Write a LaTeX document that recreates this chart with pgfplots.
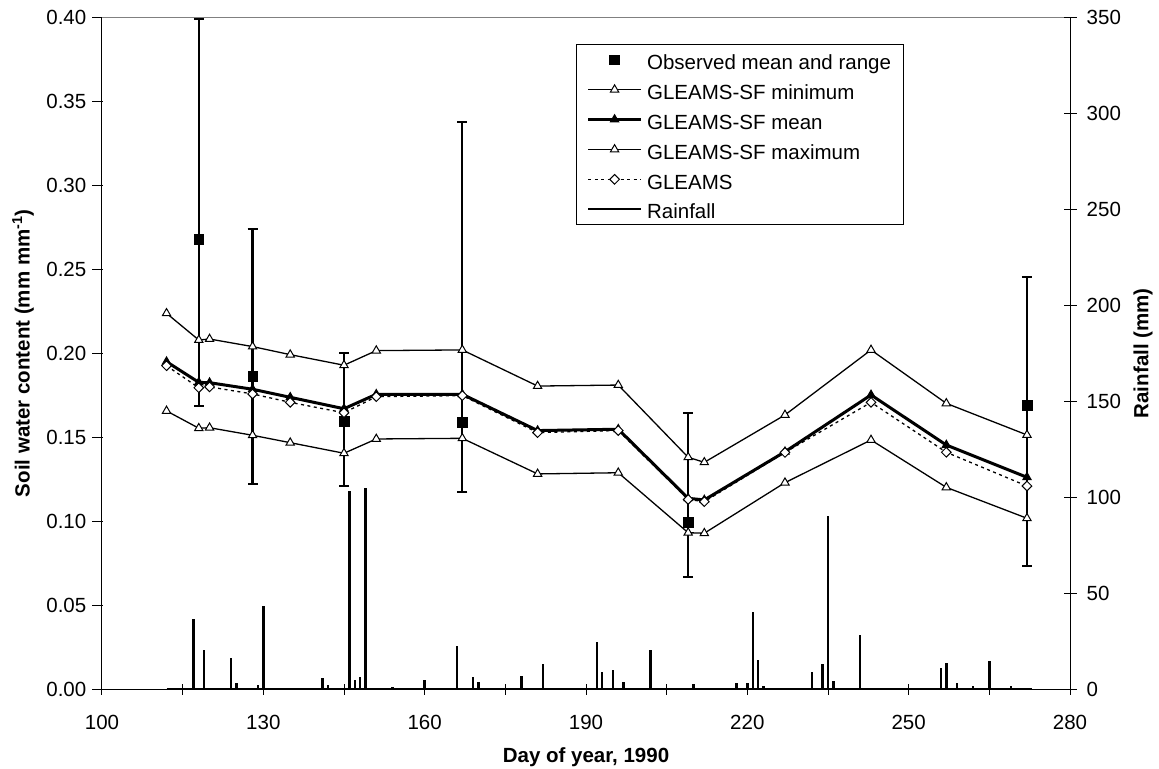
\documentclass[border=0pt]{standalone}
\usepackage{fontspec}
\setmainfont{Liberation Sans}
\usepackage{pgfplots}
\pgfplotsset{compat=1.18}

\pgfplotstableread{
day  mn      mean    mx      gl
112  0.1657  0.1950  0.2238  0.1926
118  0.1554  0.1827  0.2079  0.1795
120  0.1557  0.1825  0.2085  0.1800
128  0.1512  0.1786  0.2040  0.1758
135  0.1468  0.1738  0.1992  0.1708
145  0.1405  0.1670  0.1929  0.1646
151  0.1490  0.1756  0.2016  0.1742
167  0.1494  0.1756  0.2020  0.1748
181  0.1282  0.1540  0.1805  0.1528
196  0.1289  0.1548  0.1811  0.1540
209  0.0932  0.1137  0.1381  0.1130
212  0.0929  0.1127  0.1351  0.1117
227  0.1230  0.1414  0.1633  0.1410
243  0.1484  0.1752  0.2020  0.1708
257  0.1202  0.1454  0.1702  0.1411
272  0.1018  0.1262  0.1514  0.1210
}\simdata

\pgfplotstableread{
day rain
117 36.6
119 20.3
124 16.5
125 3.4
129 2.4
130 43.4
141 5.7
142 2.4
146 103.4
147 4.8
148 6.4
149 104.7
154 1.4
160 4.7
166 22.4
169 6.6
170 4.0
178 7.1
182 13.0
186 0.7
192 24.8
193 8.9
195 10.0
197 3.6
202 20.5
208 0.5
210 2.6
218 3.4
220 3.1
221 40.4
222 15.3
223 1.7
232 8.9
234 13.0
235 90.4
236 4.3
241 28.3
256 11.3
257 13.9
259 3.1
262 1.7
265 14.6
269 1.7
}\raindata

\begin{document}
\begin{tikzpicture}
\pgfplotsset{
  every axis/.append style={font=\fontsize{20.5bp}{24bp}\selectfont},
  /pgf/number format/assume math mode=true,
}
\begin{axis}[
  at={(0,0)}, anchor=south west,
  scale only axis, width=968bp, height=672bp,
  xmin=100, xmax=280, ymin=0, ymax=0.4,
  axis x line*=bottom, axis y line*=left,
  axis line style={black, line width=1bp, -},
  xtick={100,130,160,190,220,250,280},
  xticklabels={100,130,160,190,220,250,280},
  minor xtick={115,145,175,205,235,265},
  ytick={0,0.05,0.1,0.15,0.2,0.25,0.3,0.35,0.4},
  yticklabels={0.00,0.05,0.10,0.15,0.20,0.25,0.30,0.35,0.40},
  tick align=center, major tick length=11bp, minor tick length=11bp,
  tick style={black, line width=1bp},
  every y tick/.append style={xshift=-4bp},
  xticklabel style={inner sep=0bp, anchor=north, yshift=-20bp},
  yticklabel style={inner sep=0bp, anchor=east, xshift=-10bp},
  xlabel={\bfseries Day of year, 1990},
  xlabel style={at={(axis description cs:0.5,-0.1003)}, anchor=center},
  ylabel={\bfseries Soil water content (mm mm\textsuperscript{-1})},
  ylabel style={at={(axis description cs:-0.0816,0.5)}, anchor=center, rotate=0},
  legend cell align=left,
  legend image code/.code={\draw[mark repeat=2,mark phase=2,#1] plot coordinates {(0bp,0bp) (26.35bp,0bp) (52.7bp,0bp)};},
  legend style={at={(0.4894,0.9603)}, anchor=north west, draw=black, line width=0.8bp,
    inner xsep=10.6bp, inner ysep=3.6bp, row sep=6.4bp,
    nodes={inner sep=2bp, text height=19.5bp, text depth=0bp},
    /tikz/every odd column/.append style={column sep=2.7bp},
    font=\fontsize{20.5bp}{24bp}\selectfont},
]
\draw[gray, line width=1.5bp] (rel axis cs:0,1) -- (rel axis cs:1,1);

\addplot[only marks, mark=square*, mark size=4.8bp, mark options={fill=black, draw=black},
  error bars/.cd, y dir=both, y explicit,
  error bar style={line width=2.3bp, black},
  error mark options={rotate=90, black, mark size=5bp, line width=2bp}]
  coordinates {
  (118,0.2679) += (0,0.1311) -= (0,0.0993)
  (128,0.1865) += (0,0.0873) -= (0,0.0643)
  (145,0.1597) += (0,0.0407) -= (0,0.0387)
  (167,0.1590) += (0,0.1787) -= (0,0.0417)
  (209,0.0994) += (0,0.0649) -= (0,0.0324)
  (272,0.1690) += (0,0.0762) -= (0,0.0954)
  };
\addlegendentry{Observed mean and range}

\addplot[black, line width=1.3bp, mark=triangle*, mark size=4.8bp,
  mark options={solid, fill=white, draw=black, line width=1bp}]
  table[x=day, y=mn] {\simdata};
\addlegendentry{GLEAMS-SF minimum}

\addplot[black, line width=3bp, mark=triangle*, mark size=4.8bp,
  mark options={solid, fill=black, draw=black, line width=1bp}]
  table[x=day, y=mean] {\simdata};
\addlegendentry{GLEAMS-SF mean}

\addplot[black, line width=1.3bp, mark=triangle*, mark size=4.8bp,
  mark options={solid, fill=white, draw=black, line width=1bp}]
  table[x=day, y=mx] {\simdata};
\addlegendentry{GLEAMS-SF maximum}

\addplot[black, line width=1.3bp, dash pattern=on 3bp off 3.5bp, mark=square*, mark size=3.4bp,
  mark options={solid, rotate=45, fill=white, draw=black, line width=1bp}]
  table[x=day, y=gl] {\simdata};
\addlegendentry{GLEAMS}

\addlegendimage{black, line width=1.5bp}
\addlegendentry{Rainfall}
\end{axis}

\begin{axis}[
  at={(0,0)}, anchor=south west,
  scale only axis, width=968bp, height=672bp,
  xmin=100, xmax=280, ymin=0, ymax=350,
  axis x line=none, axis y line*=right,
  axis line style={black, line width=1bp, -},
  ytick={0,50,100,150,200,250,300,350},
  tick align=center, major tick length=13bp,
  tick style={black, line width=1bp},
  yticklabel style={inner sep=0bp, anchor=west, xshift=10bp},
  ylabel={\bfseries Rainfall (mm)},
  ylabel style={at={(axis description cs:1.0754,0.5)}, anchor=center, rotate=0},
]
\addplot[black, line width=2bp] coordinates {(112,0) (273,0)};
\addplot[ycomb, black, line width=2.4bp, no markers] table[x=day, y=rain] {\raindata};
\end{axis}

\pgfresetboundingbox
\path[use as bounding box] (-102bp,-79.7bp) rectangle (1057bp,689.3bp);
\end{tikzpicture}
\end{document}
